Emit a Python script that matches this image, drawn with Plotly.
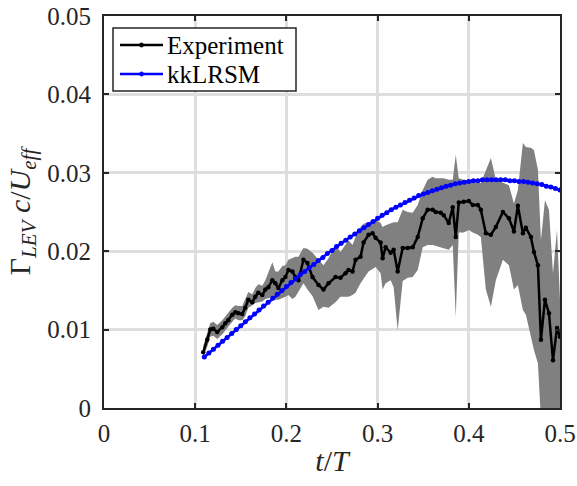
import numpy as np
import plotly.graph_objects as go

# ---------------- data ----------------
t_exp = [0.1088, 0.1132, 0.1165, 0.1198, 0.1242, 0.1297, 0.1330, 0.1363, 0.1407, 0.1440,
         0.1473, 0.1516, 0.1549, 0.1582, 0.1626, 0.1659, 0.1692, 0.1736, 0.1769, 0.1802,
         0.1846, 0.1879, 0.1912, 0.1956, 0.1989, 0.2022, 0.2066, 0.2099, 0.2132, 0.2187,
         0.2231, 0.2286, 0.2352, 0.2407, 0.2462, 0.2538, 0.2593, 0.2648, 0.2681, 0.2725,
         0.2758, 0.2813, 0.2846, 0.2901, 0.2945, 0.2978, 0.3033, 0.3055, 0.3088, 0.3143,
         0.3176, 0.3220, 0.3275, 0.3330, 0.3385, 0.3440, 0.3495, 0.3549, 0.3604, 0.3637,
         0.3692, 0.3725, 0.3780, 0.3824, 0.3857, 0.3890, 0.3945, 0.4000, 0.4044, 0.4099,
         0.4132, 0.4187, 0.4242, 0.4297, 0.4374, 0.4440, 0.4495, 0.4538, 0.4593, 0.4626,
         0.4681, 0.4714, 0.4758, 0.4791, 0.4835, 0.4879, 0.4923, 0.4967, 0.5000]

gamma_exp = [0.0071, 0.0087, 0.0100, 0.0101, 0.0097, 0.0103, 0.0108, 0.0112, 0.0119, 0.0122,
             0.0121, 0.0120, 0.0128, 0.0138, 0.0135, 0.0142, 0.0147, 0.0144, 0.0151, 0.0154,
             0.0163, 0.0159, 0.0153, 0.0163, 0.0167, 0.0176, 0.0174, 0.0167, 0.0163, 0.0189,
             0.0185, 0.0167, 0.0157, 0.0151, 0.0159, 0.0167, 0.0166, 0.0172, 0.0176, 0.0174,
             0.0189, 0.0193, 0.0211, 0.0221, 0.0223, 0.0217, 0.0211, 0.0191, 0.0205, 0.0198,
             0.0202, 0.0174, 0.0204, 0.0204, 0.0205, 0.0218, 0.0242, 0.0253, 0.0253, 0.0250,
             0.0249, 0.0246, 0.0236, 0.0256, 0.0218, 0.0262, 0.0263, 0.0264, 0.0259, 0.0259,
             0.0253, 0.0223, 0.0221, 0.0231, 0.0250, 0.0242, 0.0225, 0.0258, 0.0223, 0.0230,
             0.0218, 0.0199, 0.0182, 0.0087, 0.0138, 0.0121, 0.0061, 0.0102, 0.0091]

gamma_exp_upper = [0.0079, 0.0096, 0.0108, 0.0110, 0.0106, 0.0112, 0.0117, 0.0121, 0.0128, 0.0131,
                   0.0130, 0.0130, 0.0139, 0.0148, 0.0145, 0.0153, 0.0158, 0.0156, 0.0163, 0.0174,
                   0.0186, 0.0174, 0.0174, 0.0181, 0.0182, 0.0189, 0.0191, 0.0193, 0.0193, 0.0204,
                   0.0203, 0.0198, 0.0189, 0.0182, 0.0191, 0.0208, 0.0199, 0.0208, 0.0214, 0.0208,
                   0.0218, 0.0231, 0.0235, 0.0237, 0.0239, 0.0240, 0.0236, 0.0231, 0.0233, 0.0236,
                   0.0237, 0.0237, 0.0253, 0.0250, 0.0249, 0.0259, 0.0278, 0.0291, 0.0295, 0.0293,
                   0.0293, 0.0293, 0.0291, 0.0291, 0.0323, 0.0293, 0.0291, 0.0290, 0.0288, 0.0288,
                   0.0287, 0.0304, 0.0319, 0.0291, 0.0287, 0.0284, 0.0261, 0.0278, 0.0338, 0.0333,
                   0.0332, 0.0329, 0.0304, 0.0214, 0.0265, 0.0253, 0.0172, 0.0227, 0.0138]

gamma_exp_lower = [0.0065, 0.0078, 0.0091, 0.0092, 0.0088, 0.0094, 0.0099, 0.0103, 0.0110, 0.0114,
                   0.0112, 0.0112, 0.0117, 0.0128, 0.0131, 0.0134, 0.0135, 0.0136, 0.0139, 0.0140,
                   0.0142, 0.0138, 0.0138, 0.0140, 0.0142, 0.0144, 0.0139, 0.0142, 0.0148, 0.0159,
                   0.0151, 0.0143, 0.0125, 0.0129, 0.0128, 0.0135, 0.0142, 0.0142, 0.0142, 0.0144,
                   0.0147, 0.0159, 0.0165, 0.0174, 0.0177, 0.0180, 0.0172, 0.0151, 0.0159, 0.0163,
                   0.0154, 0.0099, 0.0162, 0.0166, 0.0167, 0.0176, 0.0205, 0.0208, 0.0208, 0.0207,
                   0.0205, 0.0204, 0.0202, 0.0208, 0.0116, 0.0224, 0.0224, 0.0227, 0.0224, 0.0221,
                   0.0218, 0.0151, 0.0129, 0.0163, 0.0189, 0.0182, 0.0151, 0.0157, 0.0125, 0.0119,
                   0.0091, 0.0074, 0.0057, -0.0015, -0.0041, -0.0041, -0.0066, -0.0041, -0.0015]

gamma_kk = [0.0065, 0.0070, 0.0075, 0.0080, 0.0085, 0.0090, 0.0095, 0.0100, 0.0105, 0.0110,
            0.0115, 0.0120, 0.0125, 0.0130, 0.0135, 0.0140, 0.0145, 0.0150, 0.0155, 0.0160,
            0.0165, 0.0170, 0.0174, 0.0179, 0.0183, 0.0188, 0.0192, 0.0197, 0.0201, 0.0206,
            0.0210, 0.0214, 0.0218, 0.0222, 0.0226, 0.0230, 0.0234, 0.0238, 0.0242, 0.0246,
            0.0249, 0.0253, 0.0256, 0.0259, 0.0262, 0.0265, 0.0268, 0.0271, 0.0273, 0.0275,
            0.0277, 0.0279, 0.0281, 0.0283, 0.0284, 0.0286, 0.0287, 0.0288, 0.0289, 0.0290,
            0.0290, 0.0291, 0.0291, 0.0291, 0.0291, 0.0291, 0.0291, 0.0290, 0.0290, 0.0289,
            0.0289, 0.0288, 0.0287, 0.0286, 0.0285, 0.0283, 0.0282, 0.0280, 0.0278]
t_kk = list(np.linspace(0.11, 0.50, len(gamma_kk)))

series_names = ["Experiment", "kkLRSM"]
series_colors = ["#000000", "#0000ff"]

x_tickvals = [0, 0.1, 0.2, 0.3, 0.4, 0.5]
x_ticktext = ["0", "0.1", "0.2", "0.3", "0.4", "0.5"]
y_tickvals = [0, 0.01, 0.02, 0.03, 0.04, 0.05]
y_ticktext = ["0", "0.01", "0.02", "0.03", "0.04", "0.05"]

# ---------------- figure ----------------
FONT = "Liberation Serif"
W, H = 577, 486
ML, MR, MT, MB = 104, 17, 16, 78
PW, PH = W - ML - MR, H - MT - MB

fig = go.Figure()

fig.add_trace(go.Scatter(
    x=t_exp + t_exp[::-1],
    y=gamma_exp_upper + gamma_exp_lower[::-1],
    fill="toself", fillcolor="#808080", line=dict(width=0),
    mode="lines", showlegend=False, hoverinfo="skip"))

fig.add_trace(go.Scatter(
    x=t_exp, y=gamma_exp, name=series_names[0], mode="lines+markers",
    line=dict(color=series_colors[0], width=2.5), marker=dict(color=series_colors[0], size=4.5),
    showlegend=False))

fig.add_trace(go.Scatter(
    x=t_kk, y=gamma_kk, name=series_names[1], mode="lines+markers",
    line=dict(color=series_colors[1], width=2.6), marker=dict(color=series_colors[1], size=5),
    showlegend=False))

axis_common = dict(
    showline=True, linecolor="#262626", linewidth=2, mirror="ticks",
    ticks="inside", ticklen=5, tickwidth=1.5, tickcolor="#262626",
    showgrid=True, gridcolor="#dedede", gridwidth=2.5, zeroline=False,
    tickfont=dict(family=FONT, size=25, color="#262626"),
    automargin=False, ticklabeloverflow="allow",
)

fig.update_xaxes(range=[0, 0.5], tickvals=x_tickvals, ticktext=x_ticktext,
                 title=dict(text="<i>t</i>/<i>T</i>", font=dict(family=FONT, size=30, color="#262626"),
                            standoff=4),
                 ticklabelstandoff=2, **axis_common)
fig.update_yaxes(range=[0, 0.05], tickvals=y_tickvals, ticktext=y_ticktext,
                 title=dict(text="Γ<sub><i>LEV</i></sub> <i>c</i>/<i>U</i><sub><i>eff</i></sub>",
                            font=dict(family=FONT, size=30, color="#262626"), standoff=8),
                 ticklabelstandoff=6, **axis_common)

# ---- legend drawn in paper coordinates (MATLAB-like box) ----
def px_x(px):
    return (px - ML) / PW

def px_y(py):
    return (H - MB - py) / PH

shapes = [dict(type="rect", xref="paper", yref="paper",
               x0=px_x(113), x1=px_x(296), y0=px_y(91), y1=px_y(28),
               line=dict(color="#262626", width=1.5), fillcolor="white", layer="above")]
annotations = []
row_y = [45, 74]
for name, col, ry in zip(series_names, series_colors, row_y):
    shapes.append(dict(type="line", xref="paper", yref="paper",
                       x0=px_x(120), x1=px_x(163), y0=px_y(ry), y1=px_y(ry),
                       line=dict(color=col, width=2.5), layer="above"))
    shapes.append(dict(type="circle", xref="paper", yref="paper",
                       x0=px_x(139.5), x1=px_x(143.5), y0=px_y(ry + 2), y1=px_y(ry - 2),
                       line=dict(color=col, width=1), fillcolor=col, layer="above"))
    annotations.append(dict(xref="paper", yref="paper", x=px_x(165), y=px_y(ry),
                            xanchor="left", yanchor="middle", showarrow=False, text=name,
                            font=dict(family=FONT, size=25, color="black")))

fig.update_layout(
    width=W, height=H,
    margin=dict(l=ML, r=MR, t=MT, b=MB),
    paper_bgcolor="white", plot_bgcolor="white",
    shapes=shapes, annotations=annotations,
    showlegend=False,
)

fig.write_html("out.html", config={"displayModeBar": False},
               post_script="document.body.style.margin='0px';document.body.style.overflow='hidden';")
